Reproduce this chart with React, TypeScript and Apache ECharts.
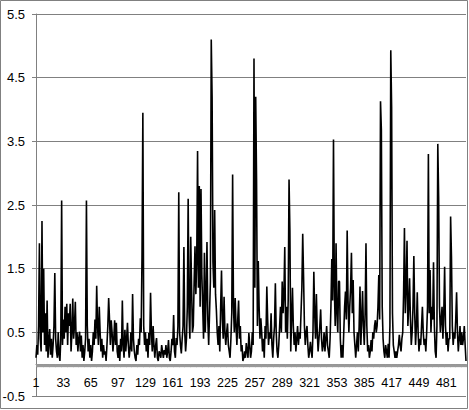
import React, { useEffect, useRef } from "react";
import * as echarts from "echarts";

// Y axis range and ticks
const yMin = -0.5;
const yMax = 5.5;
const yStep = 1;

// Series values (index 1..504), 20 per row
const values: number[] = [
  0.1, 0.3, 0.15, 0.6, 1.9, 0.4, 0.2, 2.25, 0.5, 1.5, 0.3, 0.8, 0.2, 1.0, 0.1, 0.35, 0.55, 0.15, 0.4, 0.1,
  0.3, 0.6, 1.43, 0.4, 0.2, 0.1, 0.5, 0.15, 0.05, 0.4, 2.57, 0.3, 0.7, 0.4, 0.9, 0.5, 0.95, 0.3, 0.8, 0.6,
  0.95, 0.2, 0.5, 1.03, 0.4, 0.6, 0.98, 0.3, 0.5, 0.2, 0.4, 0.51, 0.2, 0.45, 0.1, 0.3, 0.05, 0.2, 0.4, 2.57,
  0.6, 0.2, 0.4, 0.1, 0.3, 0.05, 0.2, 0.5, 0.3, 0.7, 0.4, 1.23, 0.6, 0.3, 0.9, 0.5, 0.2, 0.4, 0.1, 0.3,
  0.15, 0.2, 0.05, 0.3, 0.6, 1.04, 0.7, 0.3, 0.69, 0.5, 0.2, 0.4, 0.69, 0.3, 0.65, 0.2, 0.1, 0.3, 0.05, 0.4,
  0.2, 1.0, 0.3, 0.1, 0.54, 0.2, 0.4, 0.65, 0.3, 0.1, 0.25, 0.5, 0.2, 1.1, 0.4, 0.2, 0.1, 0.05, 0.3, 0.15,
  0.4, 0.3, 0.72, 0.5, 1.69, 3.95, 0.6, 0.3, 0.5, 0.2, 0.4, 0.1, 0.49, 0.3, 1.12, 0.5, 0.2, 0.6, 0.3, 0.1,
  0.3, 0.41, 0.1, 0.05, 0.2, 0.17, 0.1, 0.3, 0.2, 0.1, 0.22, 0.15, 0.3, 0.1, 0.2, 0.38, 0.1, 0.05, 0.2, 0.4,
  0.3, 0.77, 0.2, 0.1, 0.41, 0.3, 0.6, 2.7, 0.5, 0.3, 0.17, 0.4, 0.6, 1.84, 0.5, 0.2, 0.4, 0.9, 2.6, 0.8,
  0.4, 2.0, 1.2, 0.5, 0.6, 1.3, 1.85, 1.1, 1.6, 3.35, 1.2, 2.8, 0.9, 2.75, 1.4, 0.9, 0.4, 1.75, 0.5, 1.1,
  1.92, 0.7, 0.3, 0.8, 1.3, 5.1, 4.2, 1.6, 1.2, 2.42, 1.1, 0.85, 0.5, 0.3, 0.6, 0.2, 0.9, 1.47, 0.7, 0.4,
  1.06, 0.5, 0.3, 0.5, 0.64, 0.3, 0.2, 0.1, 0.4, 0.8, 2.98, 0.9, 0.5, 1.04, 0.6, 0.3, 0.7, 1.0, 0.4, 0.6,
  0.2, 0.3, 0.05, 0.1, 0.2, 0.1, 0.33, 0.2, 0.1, 0.49, 0.3, 0.1, 0.2, 0.5, 0.3, 4.8, 1.2, 4.2, 2.9, 0.6,
  1.62, 0.9, 0.4, 0.72, 0.5, 0.2, 0.4, 0.1, 0.6, 0.4, 1.22, 0.7, 0.3, 0.5, 0.4, 0.8, 0.3, 0.1, 0.4, 0.6,
  1.27, 0.5, 0.2, 0.1, 0.3, 0.6, 0.9, 0.5, 1.3, 0.8, 1.1, 1.84, 0.5, 0.9, 0.4, 1.0, 2.9, 2.1, 0.2, 0.7,
  1.2, 0.6, 0.3, 0.5, 0.2, 0.4, 0.6, 0.3, 0.5, 0.4, 0.8, 1.2, 2.05, 1.37, 0.6, 0.3, 0.5, 0.6, 0.3, 0.1,
  0.2, 0.35, 0.2, 0.1, 0.5, 1.45, 0.8, 0.4, 1.1, 0.5, 0.2, 0.4, 0.6, 0.86, 0.4, 0.2, 0.3, 0.5, 0.2, 0.4,
  0.6, 0.3, 0.2, 0.1, 0.4, 0.9, 1.65, 1.0, 3.53, 1.2, 0.6, 1.9, 0.8, 0.5, 1.3, 1.3, 0.4, 0.1, 0.3, 0.1,
  0.5, 0.9, 1.14, 0.7, 2.1, 1.0, 0.5, 0.9, 1.2, 1.75, 0.8, 1.32, 0.5, 0.3, 0.1, 0.3, 0.5, 0.2, 0.6, 1.22,
  0.3, 0.7, 1.15, 0.6, 0.3, 0.8, 1.9, 0.6, 0.2, 0.3, 0.1, 0.2, 0.38, 0.2, 0.5, 0.4, 0.6, 0.69, 0.5, 0.6,
  0.9, 1.4, 0.7, 4.13, 3.68, 0.9, 0.4, 0.2, 0.1, 0.3, 0.2, 0.1, 0.32, 0.1, 0.6, 4.93, 4.04, 0.8, 0.3, 0.2,
  0.1, 0.2, 0.1, 0.2, 0.3, 0.46, 0.3, 0.2, 0.4, 0.5, 1.1, 2.14, 0.8, 1.2, 1.94, 0.6, 0.9, 1.35, 0.7, 0.3,
  0.5, 0.9, 1.7, 0.8, 0.3, 0.6, 1.13, 0.5, 0.2, 0.4, 0.3, 0.6, 0.9, 0.5, 0.3, 0.4, 0.2, 0.5, 0.9, 3.3,
  0.8, 1.48, 0.5, 0.9, 0.7, 1.6, 0.6, 0.2, 0.1, 0.6, 3.46, 2.63, 0.9, 0.5, 0.7, 0.9, 0.4, 0.8, 1.53, 0.6,
  0.3, 0.5, 0.2, 0.4, 0.4, 2.32, 1.69, 0.6, 0.3, 0.5, 0.4, 0.7, 1.13, 0.5, 0.2, 0.4, 0.6, 0.3, 0.5, 0.3,
  0.4, 0.6, 0.3, 0.05,
];

// Category labels: 1, 2, 3, ... (every 32nd shown)
const categories: string[] = values.map((_, i) => String(i + 1));
const labelEvery = 32;

const GRAY = "#808080";
const GRID_TOP = 14;
const GRID_BOTTOM = 14;
const H = 410;

export default function App() {
  const ref = useRef<HTMLDivElement>(null);

  useEffect(() => {
    if (!ref.current) return;
    const chart = echarts.init(ref.current, undefined, { renderer: "svg" });
    // distance (px) from grid bottom to the zero line, so the category axis sits on y = 0
    const plotH = H - GRID_TOP - GRID_BOTTOM;
    const zeroOffset = ((0 - yMin) / (yMax - yMin)) * plotH;
    chart.setOption({
      animation: false,
      backgroundColor: "#ffffff",
      grid: {
        left: 36,
        right: 3,
        top: GRID_TOP,
        bottom: GRID_BOTTOM,
        containLabel: false,
        outerBoundsMode: "none",
      },
      graphic: [
        {
          type: "rect",
          shape: { x: 0.5, y: 0.5, width: 467, height: 408 },
          style: { fill: "none", stroke: GRAY, lineWidth: 1 },
          silent: true,
        },
      ],
      xAxis: {
        type: "category",
        data: categories,
        boundaryGap: false,
        position: "bottom",
        offset: -zeroOffset,
        axisLine: { show: true, onZero: false, lineStyle: { color: GRAY, width: 1 } },
        axisTick: {
          show: true,
          interval: 0,
          length: 3,
          lineStyle: { color: "#999999", width: 1 },
        },
        axisLabel: {
          interval: labelEvery - 1,
          margin: 12,
          fontSize: 12.5,
          fontFamily: "Liberation Sans, Arial, sans-serif",
          color: "#000000",
        },
        splitLine: { show: false },
      },
      yAxis: {
        type: "value",
        min: yMin,
        max: yMax,
        interval: yStep,
        axisLine: { show: true, lineStyle: { color: GRAY, width: 1 } },
        axisTick: { show: true, length: 4, lineStyle: { color: GRAY } },
        axisLabel: {
          margin: 11,
          fontSize: 13,
          fontFamily: "Liberation Sans, Arial, sans-serif",
          color: "#000000",
          formatter: (v: number) => v.toFixed(1),
        },
        splitLine: { show: true, lineStyle: { color: GRAY, width: 1 } },
      },
      series: [
        {
          type: "line",
          data: values,
          symbol: "none",
          lineStyle: { color: "#000000", width: 1.6 },
          z: 3,
        },
      ],
    });
    return () => chart.dispose();
  }, []);

  return (
    <div
      ref={ref}
      style={{ position: "absolute", left: 0, top: 0, width: 469, height: H }}
    />
  );
}
